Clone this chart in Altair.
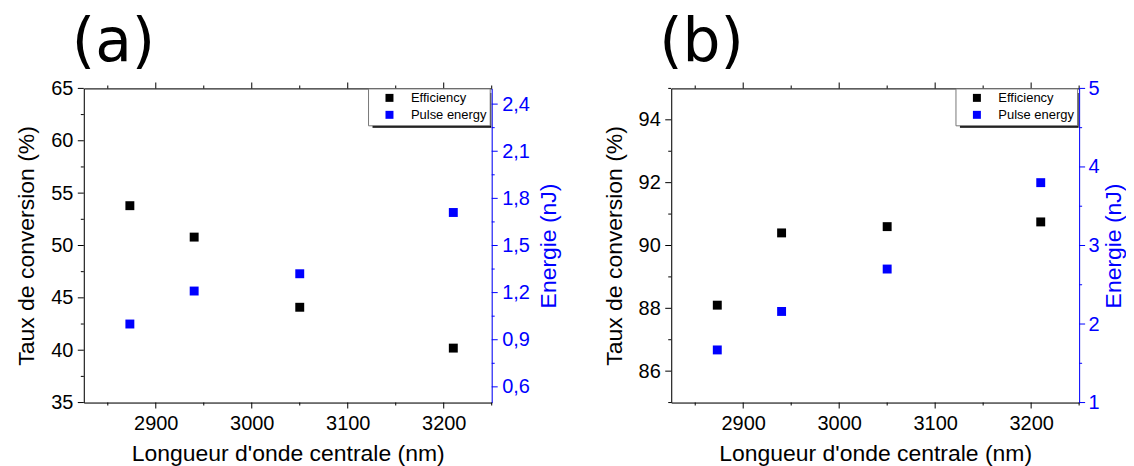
import altair as alt
import pandas as pd

# ---------------- data ----------------
wavelength = [2873, 2940, 3050, 3210]
efficiency_a = [53.8, 50.8, 44.1, 40.2]
energy_a = [1.00, 1.21, 1.32, 1.71]
efficiency_b = [88.1, 90.4, 90.6, 90.75]
energy_b = [1.67, 2.16, 2.70, 3.80]

series = ["Efficiency", "Pulse energy"]
series_colors = ["#000000", "#0000ff"]

x_major = [2900, 3000, 3100, 3200]
x_minor = [2850, 2950, 3050, 3150, 3250]
ya_major = [35, 40, 45, 50, 55, 60, 65]
ya_minor = [37.5, 42.5, 47.5, 52.5, 57.5, 62.5]
ya2_major = [0.6, 0.9, 1.2, 1.5, 1.8, 2.1, 2.4]
ya2_minor = [0.75, 1.05, 1.35, 1.65, 1.95, 2.25]
yb_major = [86, 88, 90, 92, 94]
yb_minor = [85, 87, 89, 91, 93, 95]
yb2_major = [1, 2, 3, 4, 5]
yb2_minor = [1.5, 2.5, 3.5, 4.5]

# ---------------- layout ----------------
W, H = 409, 315
FONT = "Liberation Sans"
BLUE = "#0000ff"
LEG_X, LEG_Y = 285, 0
LEG_W, LEG_H = 119, 35
SHADOW = 4.5
MAJ, MIN = 6, 3


def tick_marks(values, scale, side, length, color):
    """Axis tick marks drawn as thin tick rects positioned by the panel's scales."""
    d = pd.DataFrame({"v": values})
    if side in ("bottom", "top"):
        base = alt.Chart(d).mark_tick(color=color, orient="vertical", size=length,
                                      thickness=1, opacity=1, filled=True)
        yv = H + length / 2 if side == "bottom" else -length / 2
        return base.encode(x=alt.X("v:Q", scale=scale, axis=None), y=alt.value(yv))
    base = alt.Chart(d).mark_tick(color=color, orient="horizontal", size=length,
                                  thickness=1, opacity=1, filled=True)
    xv = -length / 2 if side == "left" else W + length / 2
    return base.encode(y=alt.Y("v:Q", scale=scale, axis=None), x=alt.value(xv))


def panel(label, eff, energy, ydom, ymaj, ymin, ylab, y2dom, y2maj, y2min, y2lab,
          r_lab_pad, r_title_pad):
    d1 = pd.DataFrame({"x": wavelength, "y": eff, "s": series[0]})
    d2 = pd.DataFrame({"x": wavelength, "y": energy, "s": series[1]})
    xscale = alt.Scale(domain=[2825, 3250], nice=False, zero=False)
    yscale = alt.Scale(domain=ydom, nice=False, zero=False)
    y2scale = alt.Scale(domain=y2dom, nice=False, zero=False)
    color = alt.Color(
        "s:N",
        scale=alt.Scale(domain=series, range=series_colors),
        legend=alt.Legend(
            title=None, orient="none", legendX=LEG_X, legendY=LEG_Y,
            fillColor="white", strokeColor="#777777", padding=3,
            symbolType="square", symbolSize=64, symbolOffset=12,
            symbolStrokeWidth=0, labelFont=FONT, labelFontSize=13,
            labelOffset=15, rowPadding=3, labelColor="black",
        ),
    )
    ax_bottom = alt.Axis(
        orient="bottom", values=x_major, format="d", ticks=True,
        tickSize=MAJ, tickOpacity=0, title="Longueur d'onde centrale (nm)",
        grid=False, domainColor="black", labelColor="black",
        labelFont=FONT, labelFontSize=20, titleFont=FONT, titleFontSize=23,
        titleFontWeight="normal", labelPadding=5, titlePadding=9,
        labelOverlap=False, labelFlush=False,
    )
    ax_top = alt.Axis(
        orient="top", values=x_major, labels=False, title=None, ticks=True,
        tickSize=MAJ, tickOpacity=0, grid=False, domainColor="black",
    )
    ax_left = alt.Axis(
        orient="left", values=ymaj, labelExpr=ylab, ticks=True,
        tickSize=MAJ, tickOpacity=0, title="Taux de conversion (%)", grid=False,
        domainColor="black", labelColor="black",
        labelFont=FONT, labelFontSize=20, titleFont=FONT, titleFontSize=23,
        titleFontWeight="normal", labelPadding=5, titlePadding=12,
        labelOverlap=False, labelFlush=False,
    )
    ax_right = alt.Axis(
        orient="right", values=y2maj, labelExpr=y2lab, ticks=True,
        tickSize=MAJ, tickOpacity=0,
        title="Energie (nJ)", titleAngle=270, titleBaseline="top",
        grid=False,
        domainColor=BLUE, labelColor=BLUE, titleColor=BLUE,
        labelFont=FONT, labelFontSize=20, titleFont=FONT, titleFontSize=23,
        titleFontWeight="normal", labelPadding=r_lab_pad, titlePadding=r_title_pad,
        labelOverlap=False, labelFlush=False,
    )
    shadow = alt.Chart(pd.DataFrame({"k": [0]})).mark_rect(color="black").encode(
        x=alt.value(LEG_X + SHADOW), x2=alt.value(LEG_X + LEG_W + SHADOW),
        y=alt.value(LEG_Y + SHADOW), y2=alt.value(LEG_Y + LEG_H + SHADOW),
    )
    eff_layer = alt.Chart(d1).mark_square(size=80, opacity=1, filled=True).encode(
        x=alt.X("x:Q", scale=xscale, axis=ax_bottom),
        y=alt.Y("y:Q", scale=yscale, axis=ax_left),
        color=color,
    )
    en_layer = alt.Chart(d2).mark_square(size=80, opacity=1, filled=True).encode(
        x=alt.X("x:Q", scale=xscale, axis=ax_top),
        y=alt.Y("y:Q", scale=y2scale, axis=ax_right),
        color=color,
    )
    ticks = [
        tick_marks(x_major, xscale, "bottom", MAJ, "black"),
        tick_marks(x_minor, xscale, "bottom", MIN, "black"),
        tick_marks(x_major, xscale, "top", MAJ, "black"),
        tick_marks(x_minor, xscale, "top", MIN, "black"),
        tick_marks(ymaj, yscale, "left", MAJ, "black"),
        tick_marks(ymin, yscale, "left", MIN, "black"),
        tick_marks(y2maj, y2scale, "right", MAJ, BLUE),
        tick_marks(y2min, y2scale, "right", MIN, BLUE),
    ]
    return (
        alt.layer(shadow, *ticks, eff_layer, en_layer)
        .resolve_scale(y="independent")
        .resolve_axis(x="independent", y="independent")
        .properties(
            width=W, height=H,
            title=alt.TitleParams(
                label, anchor="start", frame="group", font="DejaVu Sans", fontSize=60,
                fontWeight="normal", color="black", dx=-12, offset=4,
            ),
        )
    )


pa = panel("(a)", efficiency_a, energy_a, [35, 65], ya_major, ya_minor,
           "format(datum.value, 'd')", [0.5, 2.5], ya2_major, ya2_minor,
           "replace(format(datum.value, '.1f'), '.', ',')", 4, 8)
pb = panel("(b)", efficiency_b, energy_b, [85, 95], yb_major, yb_minor,
           "format(datum.value, 'd')", [1, 5], yb2_major, yb2_minor,
           "format(datum.value, 'd')", 3, 3)

chart = (
    alt.hconcat(pa, pb, spacing=41)
    .resolve_scale(color="independent")
    .properties(padding={"left": 7, "top": 4, "right": 0, "bottom": 0})
    .configure_view(stroke="black", strokeWidth=1)
    .configure(background="white")
)

chart.save("out.html", embed_options={"renderer": "svg", "actions": False})
